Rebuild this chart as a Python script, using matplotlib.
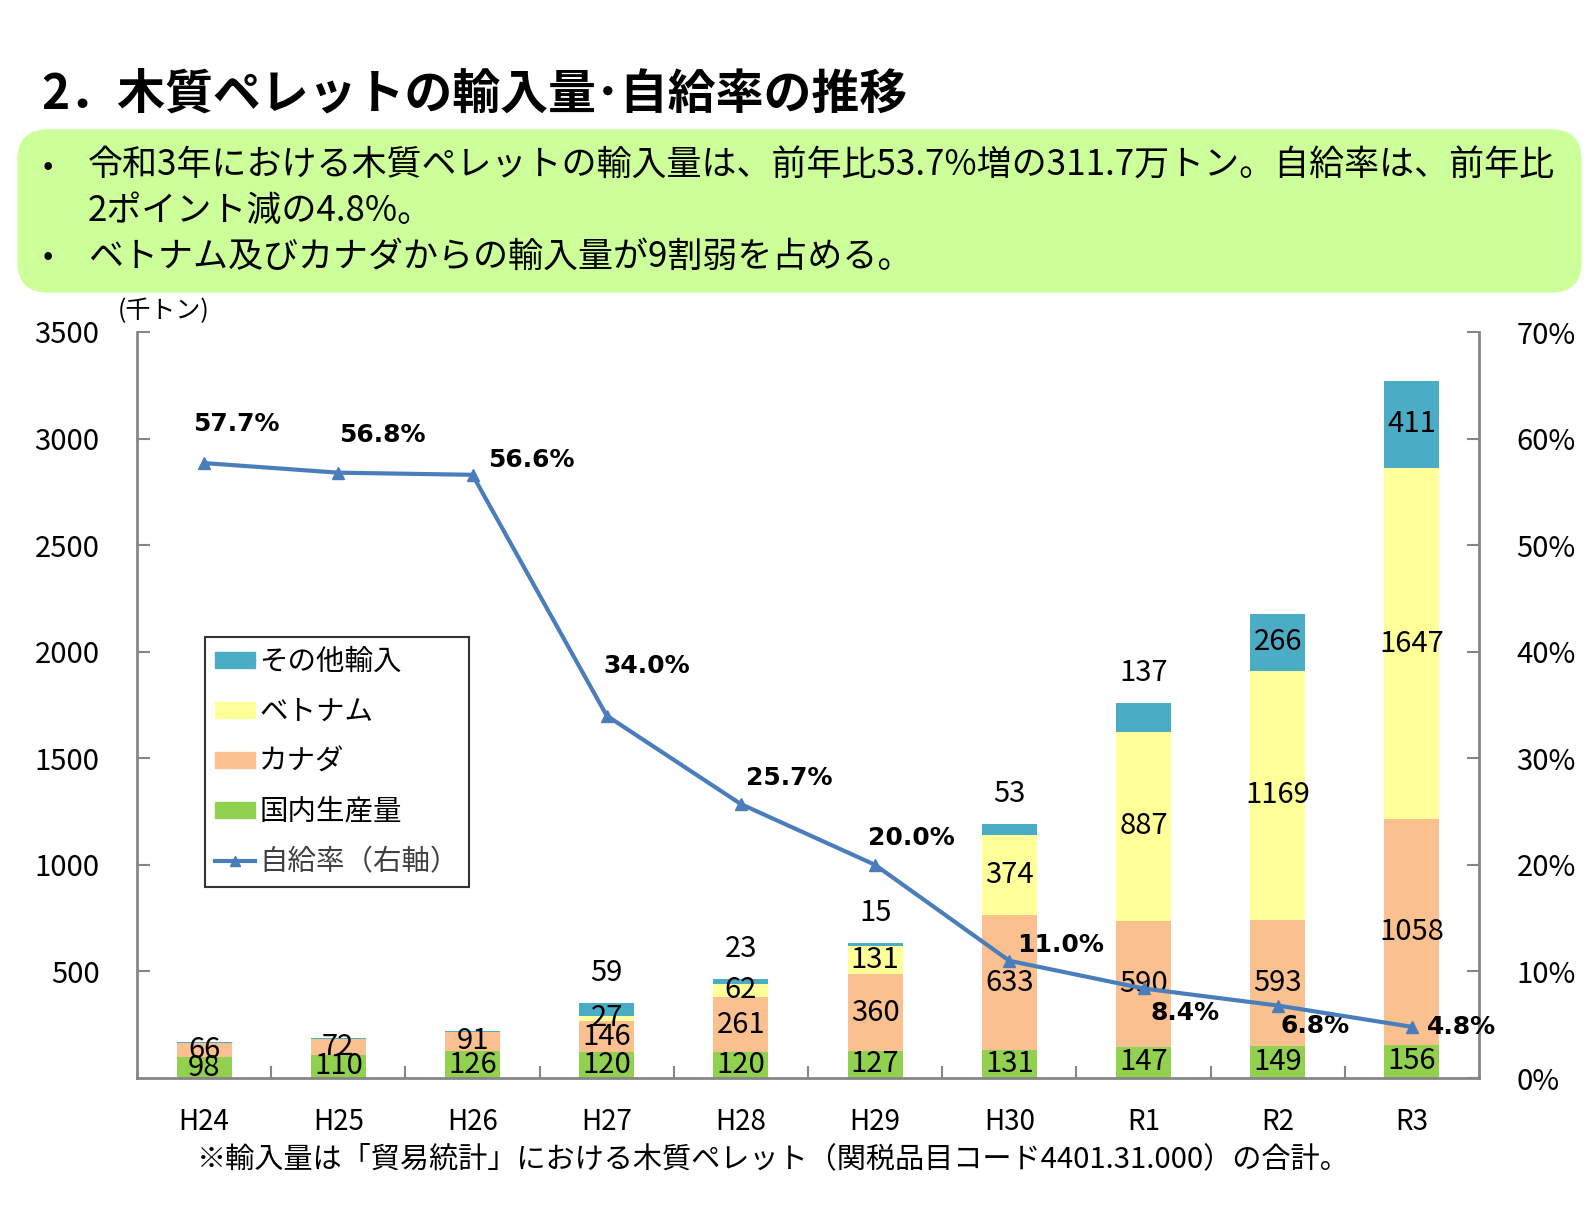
import matplotlib.pyplot as plt
import numpy as np
from matplotlib.patches import FancyBboxPatch, Patch
from matplotlib.lines import Line2D
from matplotlib.transforms import IdentityTransform

plt.rcParams['font.family'] = ['Noto Sans CJK JP', 'DejaVu Sans']

# data (千トン)
years = ['H24', 'H25', 'H26', 'H27', 'H28', 'H29', 'H30', 'R1', 'R2', 'R3']
domestic = [98, 110, 126, 120, 120, 127, 131, 147, 149, 156]
canada = [66, 72, 91, 146, 261, 360, 633, 590, 593, 1058]
vietnam = [0, 0, 0, 27, 62, 131, 374, 887, 1169, 1647]
other = [4, 5, 3, 59, 23, 15, 53, 137, 266, 411]
self_rate = [57.7, 56.8, 56.6, 34.0, 25.7, 20.0, 11.0, 8.4, 6.8, 4.8]

c_dom = '#92D050'
c_can = '#FAC090'
c_vie = '#FFFF99'
c_oth = '#4BACC6'
c_line = '#4A7EBB'
c_spine = '#868686'

W, H = 1594, 1223
fig = plt.figure(figsize=(W / 100, H / 100), dpi=100)

# title
fig.text(41 / W, 1 - 94 / H, '2．木質ペレットの輸入量･自給率の推移', fontsize=34.5,
         fontweight='bold', va='center', ha='left')

# green summary box (pixel coords)
box = FancyBboxPatch((18, H - 292), 1563, 162, boxstyle='round,pad=0,rounding_size=30',
                     transform=IdentityTransform(), facecolor='#CCFF99',
                     edgecolor='#CCFF99', zorder=0)
fig.add_artist(box)
lines = [(166, True, '令和3年における木質ペレットの輸入量は、前年比53.7%増の311.7万トン。自給率は、前年比'),
         (211, False, '2ポイント減の4.8%。'),
         (257, True, 'ベトナム及びカナダからの輸入量が9割弱を占める。')]
for y, bullet, s in lines:
    if bullet:
        fig.text(43 / W, 1 - y / H, '•', fontsize=22, va='center', ha='left')
    fig.text(88 / W, 1 - y / H, s, fontsize=25.2, va='center', ha='left')

# axes
ax = fig.add_axes([137 / W, 1 - 1078 / H, 1342 / W, 746 / H])
x = np.arange(len(years))
bw = 0.41
b1 = np.array(domestic)
b2 = b1 + np.array(canada)
b3 = b2 + np.array(vietnam)
ax.bar(x, domestic, bw, color=c_dom, zorder=2)
ax.bar(x, canada, bw, bottom=b1, color=c_can, zorder=2)
ax.bar(x, vietnam, bw, bottom=b2, color=c_vie, zorder=2)
ax.bar(x, other, bw, bottom=b3, color=c_oth, zorder=2)

lab_fs = 21
for i in range(len(years)):
    ax.text(x[i], domestic[i] / 2, str(domestic[i]), ha='center', va='center', fontsize=lab_fs, zorder=5)
    ax.text(x[i], b1[i] + canada[i] / 2, str(canada[i]), ha='center', va='center', fontsize=lab_fs, zorder=5)
    if vietnam[i] > 0:
        ax.text(x[i], b2[i] + vietnam[i] / 2, str(vietnam[i]), ha='center', va='center', fontsize=lab_fs, zorder=5)
    if other[i] >= 10:
        if other[i] < 200:
            ax.text(x[i], b3[i] + other[i] + 140, str(other[i]), ha='center', va='center', fontsize=lab_fs, zorder=5)
        else:
            ax.text(x[i], b3[i] + other[i] / 2, str(other[i]), ha='center', va='center', fontsize=lab_fs, zorder=5)

ax.set_xlim(-0.5, len(years) - 0.5)
ax.set_ylim(0, 3500)
ax.set_yticks(np.arange(500, 3501, 500))
ax.set_xticks(x)
ax.set_xticklabels(years, fontsize=20)
ax.set_xticks(np.arange(0.5, len(years) - 1, 1), minor=True)
ax.tick_params(axis='x', which='major', length=0, pad=21)
ax.tick_params(axis='x', which='minor', direction='in', length=9, width=1.5, color=c_spine)
ax.tick_params(axis='y', direction='in', length=9, width=1.5, color=c_spine, labelsize=21, pad=27)
for s in ['top', 'right']:
    ax.spines[s].set_visible(False)
for s in ['left', 'bottom']:
    ax.spines[s].set_color(c_spine)
    ax.spines[s].set_linewidth(2)

ax2 = ax.twinx()
ax2.set_ylim(0, 70)
ax2.set_yticks(np.arange(0, 71, 10))
ax2.set_yticklabels([f'{v}%' for v in range(0, 71, 10)])
ax2.tick_params(axis='y', direction='in', length=9, width=1.5, color=c_spine, labelsize=21, pad=27)
for s in ['top', 'left', 'bottom']:
    ax2.spines[s].set_visible(False)
ax2.spines['right'].set_color(c_spine)
ax2.spines['right'].set_linewidth(2)
ax2.plot(x, self_rate, color=c_line, lw=3, marker='^', markersize=8, zorder=4)

offs = [(23, 28), (32, 27), (42, 11), (29, 36), (35, 19), (26, 19), (37, 11), (30, -18), (27, -15), (36, 0)]
for i, v in enumerate(self_rate):
    ax2.annotate(f'{v:.1f}%', (x[i], v), xytext=offs[i], textcoords='offset points',
                 ha='center', va='center', fontsize=18, fontweight='bold',
                 family=['DejaVu Sans'])

fig.text(118 / W, 1 - 311 / H, '(千トン)', fontsize=18, ha='left', va='center')

handles = [Patch(color=c_oth), Patch(color=c_vie), Patch(color=c_can), Patch(color=c_dom),
           Line2D([0], [0], color=c_line, lw=3, marker='^', markersize=7)]
labels = ['その他輸入', 'ベトナム', 'カナダ', '国内生産量', '自給率（右軸）']
leg = ax.legend(handles, labels, loc='upper left', bbox_to_anchor=(0.0507, 0.591),
                borderaxespad=0, fontsize=20.5, frameon=True, fancybox=False,
                edgecolor='black', handlelength=1.4, handleheight=0.5, handletextpad=0.15,
                labelspacing=0.7, borderpad=0.35)
leg.get_frame().set_linewidth(1.5)
leg.get_texts()[4].set_color('#404040')

fig.text(773 / W, 1 - 1159 / H,
         '※輸入量は「貿易統計」における木質ペレット（関税品目コード4401.31.000）の合計。',
         fontsize=21, ha='center', va='center')

fig.savefig('out.png', dpi=100)
